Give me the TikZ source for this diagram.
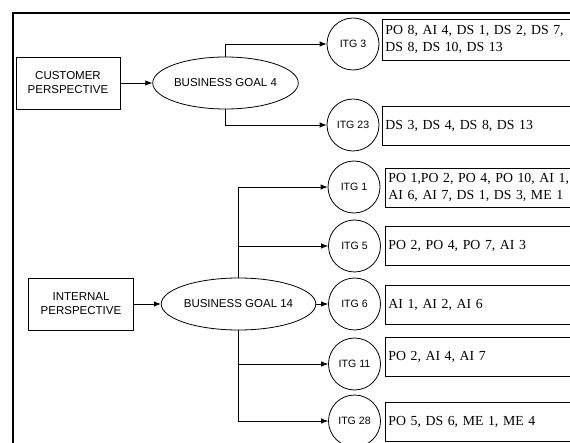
\documentclass[tikz,border=0pt]{standalone}
\usepackage{fontspec}
\setmainfont{Liberation Serif}
\newfontfamily\arialf{Liberation Sans}
\usetikzlibrary{arrows.meta,shapes.geometric}
\begin{document}
\begin{tikzpicture}[x=1pt,y=-1pt,
 line width=0.8pt,
 persp/.style={draw, rectangle, minimum width=104pt, minimum height=52pt, inner sep=0pt, align=center, font=\arialf\fontsize{11.5}{14}\selectfont},
 goal/.style={draw, ellipse, minimum width=131pt, minimum height=52pt, inner sep=0pt, font=\arialf\fontsize{11.5}{14}\selectfont},
 itg/.style={draw, circle, minimum size=52pt, inner sep=0pt, font=\arialf\fontsize{10.6}{12}\selectfont},
 proc/.style={draw, rectangle, anchor=west, minimum height=39pt, text width=200pt, inner xsep=3pt, inner ysep=0pt, align=left, font=\fontsize{13.8}{17}\selectfont},
 arr/.style={-{Latex[length=7pt,width=5.5pt]}},
 frame/.style={line width=2pt}
]
\clip (0,0) rectangle (570,443);
\coordinate (fa) at (13,450);
\coordinate (fb) at (13,13);
\coordinate (fc) at (580,13);
\draw[frame] (fa) -- (fb) -- (fc);

% perspectives and goals
\node[persp] (cp) at (68,83) {CUSTOMER\\PERSPECTIVE};
\node[goal] (bg4) at (225.5,83) {BUSINESS GOAL 4};
\node[persp, minimum width=105pt] (ip) at (81,304) {INTERNAL\\PERSPECTIVE};
\node[goal, minimum width=132pt] (bg14) at (238.5,304) {BUSINESS GOAL 14};

% IT goals
\node[itg] (itg3) at (353,44) {ITG 3};
\node[itg] (itg23) at (353,125) {ITG 23};
\node[itg] (itg1) at (354,187) {ITG 1};
\node[itg] (itg5) at (354.5,246) {ITG 5};
\node[itg] (itg6) at (354.5,304) {ITG 6};
\node[itg] (itg11) at (354.5,364) {ITG 11};
\node[itg] (itg28) at (354.5,421) {ITG 28};

% processes
\node[proc, minimum height=41pt] (p3) at (382,39.5) {PO 8, AI 4, DS 1, DS 2, DS 7,\\DS 8, DS 10, DS 13};
\node[proc] (p23) at (382,125.5) {DS 3, DS 4, DS 8, DS 13};
\node[proc] (p1) at (385,187.5) {PO 1,PO 2, PO 4, PO 10, AI 1,\\AI 6, AI 7, DS 1, DS 3, ME 1};
\node[proc] (p5) at (385,245.5) {PO 2, PO 4, PO 7, AI 3};
\node[proc] (p6) at (385,304.5) {AI 1, AI 2, AI 6};
\node[proc] (p11) at (385,356.5) {PO 2, AI 4, AI 7};
\node[proc] (p28) at (385,421.5) {PO 5, DS 6, ME 1, ME 4};

% connectors
\draw[arr] (cp) -- (bg4);
\draw[arr] (bg4.north) |- (itg3);
\draw[arr] (bg4.south) |- (itg23);
\draw[arr] (ip) -- (bg14);
\draw[arr] (bg14.north) |- (itg1);
\draw[arr] (bg14.north) |- (itg5);
\draw[arr] (bg14) -- (itg6);
\draw[arr] (bg14.south) |- (itg11);
\draw[arr] (bg14.south) |- (itg28);
\end{tikzpicture}
\end{document}
